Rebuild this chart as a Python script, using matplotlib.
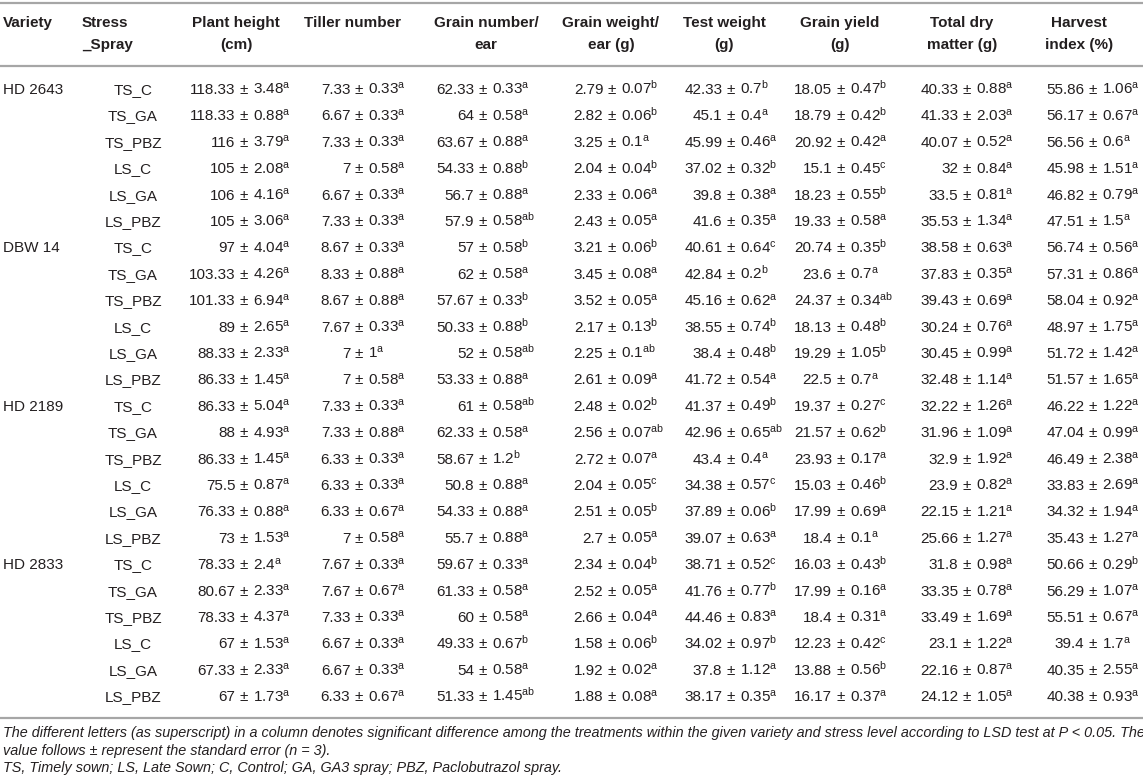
import matplotlib
matplotlib.use("Agg")
import matplotlib.pyplot as plt

plt.rcParams['font.family'] = ['Liberation Sans', 'DejaVu Sans']
plt.rcParams['mathtext.fontset'] = 'custom'
plt.rcParams['mathtext.rm'] = 'Liberation Sans'
plt.rcParams['mathtext.it'] = 'Liberation Sans:italic'
plt.rcParams['mathtext.bf'] = 'Liberation Sans:bold'

varieties = ["HD 2643", "DBW 14", "HD 2189", "HD 2833"]
treatments = ["TS_C", "TS_GA", "TS_PBZ", "LS_C", "LS_GA", "LS_PBZ"]

headers = [
    ("Plant height", "(cm)"),
    ("Tiller number", ""),
    ("Grain number/", "ear"),
    ("Grain weight/", "ear (g)"),
    ("Test weight", "(g)"),
    ("Grain yield", "(g)"),
    ("Total dry", "matter (g)"),
    ("Harvest", "index (%)"),
]

plant_height = [
    "118.33 3.48 a", "118.33 0.88 a", "116 3.79 a", "105 2.08 a", "106 4.16 a", "105 3.06 a",
    "97 4.04 a", "103.33 4.26 a", "101.33 6.94 a", "89 2.65 a", "88.33 2.33 a", "86.33 1.45 a",
    "86.33 5.04 a", "88 4.93 a", "86.33 1.45 a", "75.5 0.87 a", "76.33 0.88 a", "73 1.53 a",
    "78.33 2.4 a", "80.67 2.33 a", "78.33 4.37 a", "67 1.53 a", "67.33 2.33 a", "67 1.73 a",
]
tiller_number = [
    "7.33 0.33 a", "6.67 0.33 a", "7.33 0.33 a", "7 0.58 a", "6.67 0.33 a", "7.33 0.33 a",
    "8.67 0.33 a", "8.33 0.88 a", "8.67 0.88 a", "7.67 0.33 a", "7 1 a", "7 0.58 a",
    "7.33 0.33 a", "7.33 0.88 a", "6.33 0.33 a", "6.33 0.33 a", "6.33 0.67 a", "7 0.58 a",
    "7.67 0.33 a", "7.67 0.67 a", "7.33 0.33 a", "6.67 0.33 a", "6.67 0.33 a", "6.33 0.67 a",
]
grain_number = [
    "62.33 0.33 a", "64 0.58 a", "63.67 0.88 a", "54.33 0.88 b", "56.7 0.88 a", "57.9 0.58 ab",
    "57 0.58 b", "62 0.58 a", "57.67 0.33 b", "50.33 0.88 b", "52 0.58 ab", "53.33 0.88 a",
    "61 0.58 ab", "62.33 0.58 a", "58.67 1.2 b", "50.8 0.88 a", "54.33 0.88 a", "55.7 0.88 a",
    "59.67 0.33 a", "61.33 0.58 a", "60 0.58 a", "49.33 0.67 b", "54 0.58 a", "51.33 1.45 ab",
]
grain_weight = [
    "2.79 0.07 b", "2.82 0.06 b", "3.25 0.1 a", "2.04 0.04 b", "2.33 0.06 a", "2.43 0.05 a",
    "3.21 0.06 b", "3.45 0.08 a", "3.52 0.05 a", "2.17 0.13 b", "2.25 0.1 ab", "2.61 0.09 a",
    "2.48 0.02 b", "2.56 0.07 ab", "2.72 0.07 a", "2.04 0.05 c", "2.51 0.05 b", "2.7 0.05 a",
    "2.34 0.04 b", "2.52 0.05 a", "2.66 0.04 a", "1.58 0.06 b", "1.92 0.02 a", "1.88 0.08 a",
]
test_weight = [
    "42.33 0.7 b", "45.1 0.4 a", "45.99 0.46 a", "37.02 0.32 b", "39.8 0.38 a", "41.6 0.35 a",
    "40.61 0.64 c", "42.84 0.2 b", "45.16 0.62 a", "38.55 0.74 b", "38.4 0.48 b", "41.72 0.54 a",
    "41.37 0.49 b", "42.96 0.65 ab", "43.4 0.4 a", "34.38 0.57 c", "37.89 0.06 b", "39.07 0.63 a",
    "38.71 0.52 c", "41.76 0.77 b", "44.46 0.83 a", "34.02 0.97 b", "37.8 1.12 a", "38.17 0.35 a",
]
grain_yield = [
    "18.05 0.47 b", "18.79 0.42 b", "20.92 0.42 a", "15.1 0.45 c", "18.23 0.55 b", "19.33 0.58 a",
    "20.74 0.35 b", "23.6 0.7 a", "24.37 0.34 ab", "18.13 0.48 b", "19.29 1.05 b", "22.5 0.7 a",
    "19.37 0.27 c", "21.57 0.62 b", "23.93 0.17 a", "15.03 0.46 b", "17.99 0.69 a", "18.4 0.1 a",
    "16.03 0.43 b", "17.99 0.16 a", "18.4 0.31 a", "12.23 0.42 c", "13.88 0.56 b", "16.17 0.37 a",
]
total_dry_matter = [
    "40.33 0.88 a", "41.33 2.03 a", "40.07 0.52 a", "32 0.84 a", "33.5 0.81 a", "35.53 1.34 a",
    "38.58 0.63 a", "37.83 0.35 a", "39.43 0.69 a", "30.24 0.76 a", "30.45 0.99 a", "32.48 1.14 a",
    "32.22 1.26 a", "31.96 1.09 a", "32.9 1.92 a", "23.9 0.82 a", "22.15 1.21 a", "25.66 1.27 a",
    "31.8 0.98 a", "33.35 0.78 a", "33.49 1.69 a", "23.1 1.22 a", "22.16 0.87 a", "24.12 1.05 a",
]
harvest_index = [
    "55.86 1.06 a", "56.17 0.67 a", "56.56 0.6 a", "45.98 1.51 a", "46.82 0.79 a", "47.51 1.5 a",
    "56.74 0.56 a", "57.31 0.86 a", "58.04 0.92 a", "48.97 1.75 a", "51.72 1.42 a", "51.57 1.65 a",
    "46.22 1.22 a", "47.04 0.99 a", "46.49 2.38 a", "33.83 2.69 a", "34.32 1.94 a", "35.43 1.27 a",
    "50.66 0.29 b", "56.29 1.07 a", "55.51 0.67 a", "39.4 1.7 a", "40.35 2.55 a", "40.38 0.93 a",
]

footnotes = [
    "The different letters (as superscript) in a column denotes significant difference among the treatments within the given variety and stress level according to LSD test at P < 0.05. The",
    "value follows \u00b1 represent the standard error (n = 3).",
    "TS, Timely sown; LS, Late Sown; C, Control; GA, GA3 spray; PBZ, Paclobutrazol spray.",
]

columns = [plant_height, tiller_number, grain_number, grain_weight,
           test_weight, grain_yield, total_dry_matter, harvest_index]

# ---- layout (pixel space) ----
W, H = 1143, 784
fig = plt.figure(figsize=(W / 100, H / 100), dpi=100)
ax = fig.add_axes([0, 0, 1, 1])
ax.set_xlim(0, W)
ax.set_ylim(H, 0)
ax.axis("off")

TXT = "#231f20"
RULE = "#a6a6a6"
FS = 11

pm_x = [244, 359, 483, 612, 731, 841, 967, 1093]
hdr_x = [236, 352, 486, 611, 724, 840, 962, 1079]
var_x = 3
trt_hdr_x = 82
trt_x = 133
row0, dy = 88.5, 26.4
gap = 8.7

for yy in (3, 65.5, 718):
    ax.plot([0, W], [yy, yy], color=RULE, lw=1.6, solid_capstyle="butt")

# headers
ax.text(var_x, 22.5, "Variety", ha="left", va="center", fontsize=FS, fontweight="bold", color=TXT)
ax.text(trt_hdr_x, 22.5, "Stress", ha="left", va="center", fontsize=FS, fontweight="bold", color=TXT)
ax.text(trt_hdr_x, 44.5, "_Spray", ha="left", va="center", fontsize=FS, fontweight="bold", color=TXT)
for (l1, l2), hx in zip(headers, hdr_x):
    ax.text(hx, 22.5, l1, ha="center", va="center", fontsize=FS, fontweight="bold", color=TXT)
    if l2:
        ax.text(hx, 44.5, l2, ha="center", va="center", fontsize=FS, fontweight="bold", color=TXT)

# body
n = len(varieties) * len(treatments)
for i in range(n):
    y = row0 + i * dy + 5.5
    if i % len(treatments) == 0:
        ax.text(var_x, y, varieties[i // len(treatments)], ha="left", va="baseline",
                fontsize=FS, color=TXT)
    ax.text(trt_x, y, treatments[i % len(treatments)], ha="center", va="baseline",
            fontsize=FS, color=TXT)
    for col, px in zip(columns, pm_x):
        mean, se, let = col[i].split()
        ax.text(px - gap, y, mean, ha="right", va="baseline", fontsize=FS, color=TXT)
        ax.text(px, y, "\u00b1", ha="center", va="baseline", fontsize=FS, color=TXT)
        ax.text(px + gap, y, se + r"$^{\mathrm{" + let + "}}$", ha="left", va="baseline",
                fontsize=FS, color=TXT)

for k, line in enumerate(footnotes):
    ax.text(3, 733 + k * 17.5, line, ha="left", va="center", fontsize=10.35,
            style="italic", color=TXT)

fig.savefig("out.png", dpi=100)
